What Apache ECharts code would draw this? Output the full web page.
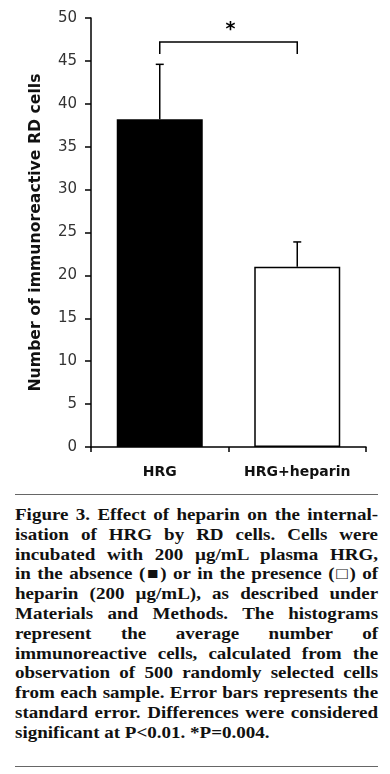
<!DOCTYPE html>
<html><head><meta charset="utf-8">
<script src="https://cdn.jsdelivr.net/npm/echarts@6/dist/echarts.min.js"></script>
<style>
html,body{margin:0;padding:0;background:#fff;width:390px;height:774px;overflow:hidden}
#chart{position:absolute;left:0;top:0;width:390px;height:490px}
.rule{position:absolute;left:15px;width:363px;height:0;border-top:1.5px solid #666}
#caption{position:absolute;left:15px;top:505px;width:313px;transform:scaleX(1.16);transform-origin:0 0;font-family:"Liberation Serif",serif;font-weight:bold;font-size:16.4px;line-height:19.8px;color:#111}
#caption div{white-space:nowrap;text-align:justify;text-align-last:justify}
#caption div.last{text-align-last:left}
</style></head><body>
<div id="chart"></div>
<div class="rule" style="top:494px"></div>
<div id="caption">
<div>Figure 3. Effect of heparin on the internal-</div>
<div>isation of HRG by RD cells. Cells were</div>
<div>incubated with 200 µg/mL plasma HRG,</div>
<div>in the absence (■) or in the presence (□) of</div>
<div>heparin (200 µg/mL), as described under</div>
<div>Materials and Methods. The histograms</div>
<div>represent the average number of</div>
<div>immunoreactive cells, calculated from the</div>
<div>observation of 500 randomly selected cells</div>
<div>from each sample. Error bars represents the</div>
<div>standard error. Differences were considered</div>
<div class="last">significant at P&lt;0.01. *P=0.004.</div>
</div>
<div class="rule" style="top:766px"></div>
<script>
// ---- data ----
const categories = ['HRG', 'HRG+heparin'];
const means = [38.2, 21.0];
const errors = [6.4, 2.9];
const yMin = 0, yMax = 50, yStep = 5;
const yTitle = 'Number of immunoreactive RD cells';
// significance bracket: [fromIndex, toIndex, barLevel, legEnd, labelLevel]
const bracket = [[0, 1, 47.2, 45.8, 48.6]];
const bracketLabel = '*';

const chart = echarts.init(document.getElementById('chart'));
const black = '#000';
chart.setOption({
  animation: false,
  backgroundColor: '#fff',
  grid: {left: 91, right: 24, top: 18, bottom: 43},
  xAxis: {
    type: 'category', data: categories,
    axisLine: {lineStyle: {color: black, width: 1.5}},
    axisTick: {show: true, alignWithLabel: false, length: 5, lineStyle: {color: black, width: 1.5}},
    axisLabel: {interval: 0, margin: 18, fontFamily: 'DejaVu Sans', fontWeight: 'bold', fontSize: 14, color: '#111'}
  },
  yAxis: {
    type: 'value', min: yMin, max: yMax, interval: yStep,
    splitLine: {show: false},
    axisLine: {show: true, lineStyle: {color: black, width: 1.5}},
    axisTick: {show: true, length: 6, lineStyle: {color: black, width: 1.5}},
    axisLabel: {margin: 14, fontFamily: 'DejaVu Sans', fontSize: 15, color: '#333'},
    name: yTitle, nameLocation: 'middle', nameGap: 47,
    nameTextStyle: {fontFamily: 'DejaVu Sans', fontWeight: 'bold', fontSize: 15.7, color: '#111'}
  },
  series: [
    {
      type: 'bar', barWidth: 86,
      data: means.map((v, i) => ({
        value: v,
        itemStyle: i === 0 ? {color: black} : {color: '#fff', borderColor: black, borderWidth: 1.5}
      }))
    },
    {
      type: 'custom', z: 3,
      data: means.map((m, i) => [i, m, m + errors[i]]),
      renderItem: function (params, api) {
        const x = api.value(0);
        const lo = api.coord([x, api.value(1)]);
        const hi = api.coord([x, api.value(2)]);
        const cap = 4;
        const st = {stroke: black, lineWidth: 1.5};
        return {type: 'group', children: [
          {type: 'line', shape: {x1: lo[0], y1: lo[1], x2: hi[0], y2: hi[1]}, style: st},
          {type: 'line', shape: {x1: hi[0] - cap, y1: hi[1], x2: hi[0] + cap, y2: hi[1]}, style: st}
        ]};
      }
    },
    {
      type: 'custom', z: 3,
      data: bracket,
      renderItem: function (params, api) {
        const a = api.coord([api.value(0), api.value(2)]);
        const b = api.coord([api.value(1), api.value(2)]);
        const la = api.coord([api.value(0), api.value(3)]);
        const lb = api.coord([api.value(1), api.value(3)]);
        const t = api.coord([api.value(0), api.value(4)]);
        const st = {stroke: black, lineWidth: 1.5, fill: null};
        return {type: 'group', children: [
          {type: 'polyline', shape: {points: [[la[0], la[1]], [a[0], a[1]], [b[0], b[1]], [lb[0], lb[1]]]}, style: st},
          {type: 'text', style: {text: bracketLabel, x: (a[0] + b[0]) / 2 + 2, y: t[1], align: 'center', verticalAlign: 'middle',
            font: 'bold 19px "DejaVu Sans"', fill: black}}
        ]};
      }
    }
  ]
});
</script>
</body></html>
